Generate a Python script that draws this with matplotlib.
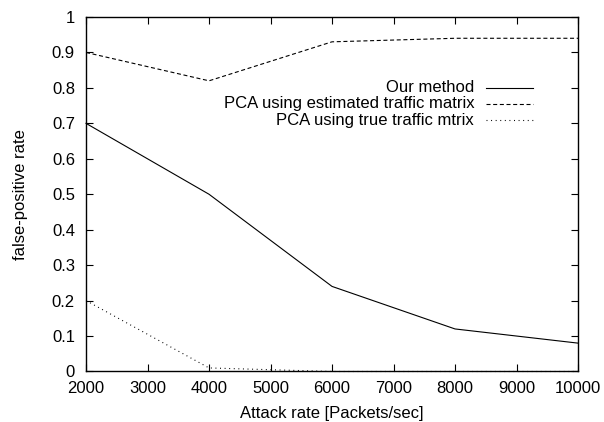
import numpy as np
import matplotlib.pyplot as plt

plt.rcParams['font.family'] = ['Liberation Sans', 'DejaVu Sans']
plt.rcParams['lines.scale_dashes'] = False

# attack rates and false-positive rates
attack_rate = [2000, 4000, 6000, 8000, 10000]
our_method = [0.70, 0.50, 0.24, 0.12, 0.08]
pca_estimated = [0.90, 0.82, 0.93, 0.94, 0.94]
pca_true = [0.20, 0.01, 0.00, 0.00, 0.00]

labels = ['Our method', 'PCA using estimated traffic matrix', 'PCA using true traffic mtrix']
dash_styles = ['-', (0, (2.9, 1.9)), (0, (0.7, 2.6))]

fig = plt.figure(figsize=(6.04, 4.22), dpi=100)
ax = fig.add_axes([0.1424, 0.1197, 0.8146, 0.84])

series = [our_method, pca_estimated, pca_true]
for i, ys in enumerate(series):
    ax.plot(attack_rate, ys, color='black', lw=0.8, linestyle=dash_styles[i], clip_on=False)

# gnuplot style key, text right aligned with sample line to the right
key_y = [0.80, 0.755, 0.709]
for i, lab in enumerate(labels):
    ax.text(0.789, key_y[i], lab, transform=ax.transAxes, ha='right', va='center', fontsize=12)
    ax.plot([0.813, 0.909], [key_y[i], key_y[i]], transform=ax.transAxes,
            color='black', lw=0.8, linestyle=dash_styles[i])

ax.set_xlim(2000, 10000)
ax.set_ylim(0, 1)
ax.set_xticks(np.arange(2000, 10001, 1000))
ax.set_yticks(np.arange(0, 1.01, 0.1))
ax.set_yticklabels(['0', '0.1', '0.2', '0.3', '0.4', '0.5', '0.6', '0.7', '0.8', '0.9', '1'])
ax.tick_params(direction='in', length=5, width=0.8, top=True, right=True, labelsize=12)
ax.tick_params(axis='x', pad=6.5)
ax.tick_params(axis='y', pad=8)
for s in ax.spines.values():
    s.set_linewidth(1.0)

ax.set_xlabel('Attack rate [Packets/sec]', fontsize=12, labelpad=7.5)
ax.set_ylabel('false-positive rate', fontsize=12, labelpad=17)

fig.savefig('out.png', dpi=100)
